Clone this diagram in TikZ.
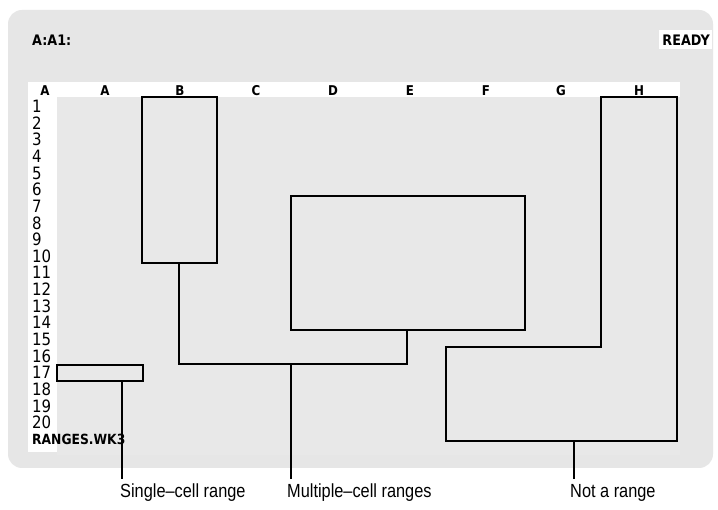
\documentclass[tikz,border=0pt]{standalone}
\usepackage{fontspec}
\setmainfont{Liberation Sans}
\newfontfamily\condf[FakeStretch=0.86]{Liberation Sans}
\newfontfamily\scrf[FakeStretch=0.88]{DejaVu Sans}
\definecolor{screen}{RGB}{230,230,230}
\definecolor{sheet}{RGB}{232,232,232}
\tikzset{
  rangebox/.style={draw=black, line width=1.5pt, inner sep=0pt},
  lead/.style={draw=black, line width=1.2pt},
  collabel/.style={font=\scrf\bfseries\fontsize{13.5}{13.5}\selectfont, anchor=base, inner sep=0pt},
  rowlabel/.style={font=\scrf\fontsize{17}{17}\selectfont, anchor=base west, inner sep=0pt},
  caption/.style={font=\condf\fontsize{19}{19}\selectfont, anchor=base west, inner sep=0pt},
  status/.style={font=\scrf\bfseries\fontsize{14.5}{14.5}\selectfont, inner sep=0pt}
}
\begin{document}
\begin{tikzpicture}[x=1pt,y=-1pt]
\useasboundingbox (0,0) rectangle (718,510);
\fill[white] (0,0) rectangle (718,510);
% screen
\fill[screen, rounded corners=14pt] (8,10) rectangle (713,468);
\fill[sheet] (57,97) rectangle (680,455);
\fill[white] (28,82) rectangle (680,97);
\fill[white] (28,97) rectangle (57,452);
\fill[white] (659,30) rectangle (712,49);
% status line
\node[status, anchor=base west] (addr) at (32,45.5) {A:A1:};
\node[status, anchor=base east] (ready) at (710,45.5) {READY};
% column headers
\foreach \x/\l/\n in {45/A/c0,105/A/c1,180/B/c2,256/C/c3,333/D/c4,410/E/c5,486/F/c6,561/G/c7,639/H/c8}
  \node[collabel] (\n) at (\x,95.5) {\l};
% row numbers
\foreach \r in {1,...,20}
  \node[rowlabel] (r\r) at (32,{106+(\r-1)*16.65+6.5}) {\r};
\node[font=\scrf\bfseries\fontsize{14}{14}\selectfont, anchor=base west, inner sep=0pt] (file) at (32,445) {RANGES.WK3};
% ranges
\node[rangebox, minimum width=75pt, minimum height=166pt] (rb) at (179.5,180) {};
\node[rangebox, minimum width=234pt, minimum height=134pt] (rde) at (408,263) {};
\node[rangebox, minimum width=86pt, minimum height=16pt] (ra) at (100,373) {};
% not a range polygon
\coordinate (h1) at (601,97);
\coordinate (h2) at (677,97);
\coordinate (h3) at (677,441);
\coordinate (h4) at (446,441);
\coordinate (h5) at (446,347);
\coordinate (h6) at (601,347);
\draw[line width=1.5pt, line join=miter] (h1) -- (h2) -- (h3) -- (h4) -- (h5) -- (h6) -- cycle;
% captions
\node[caption] (cap1) at (120,497) {Single–cell range};
\node[caption] (cap2) at (287,497) {Multiple–cell ranges};
\node[caption] (cap3) at (570,497) {Not a range};
% leader lines
\coordinate (j1) at (179,364);
\coordinate (j2) at (407,364);
\coordinate (m1) at (291,364);
\coordinate (e1) at (122,479);
\coordinate (e2) at (291,479);
\coordinate (e3) at (574,479);
\coordinate (n1) at (574,441);
\draw[lead] (rb.south -| j1) -- (j1) -- (j2) -- (rde.south -| j2);
\draw[lead] (ra.south -| e1) -- (e1);
\draw[lead] (m1) -- (e2);
\draw[lead] (n1) -- (e3);
\end{tikzpicture}
\end{document}
